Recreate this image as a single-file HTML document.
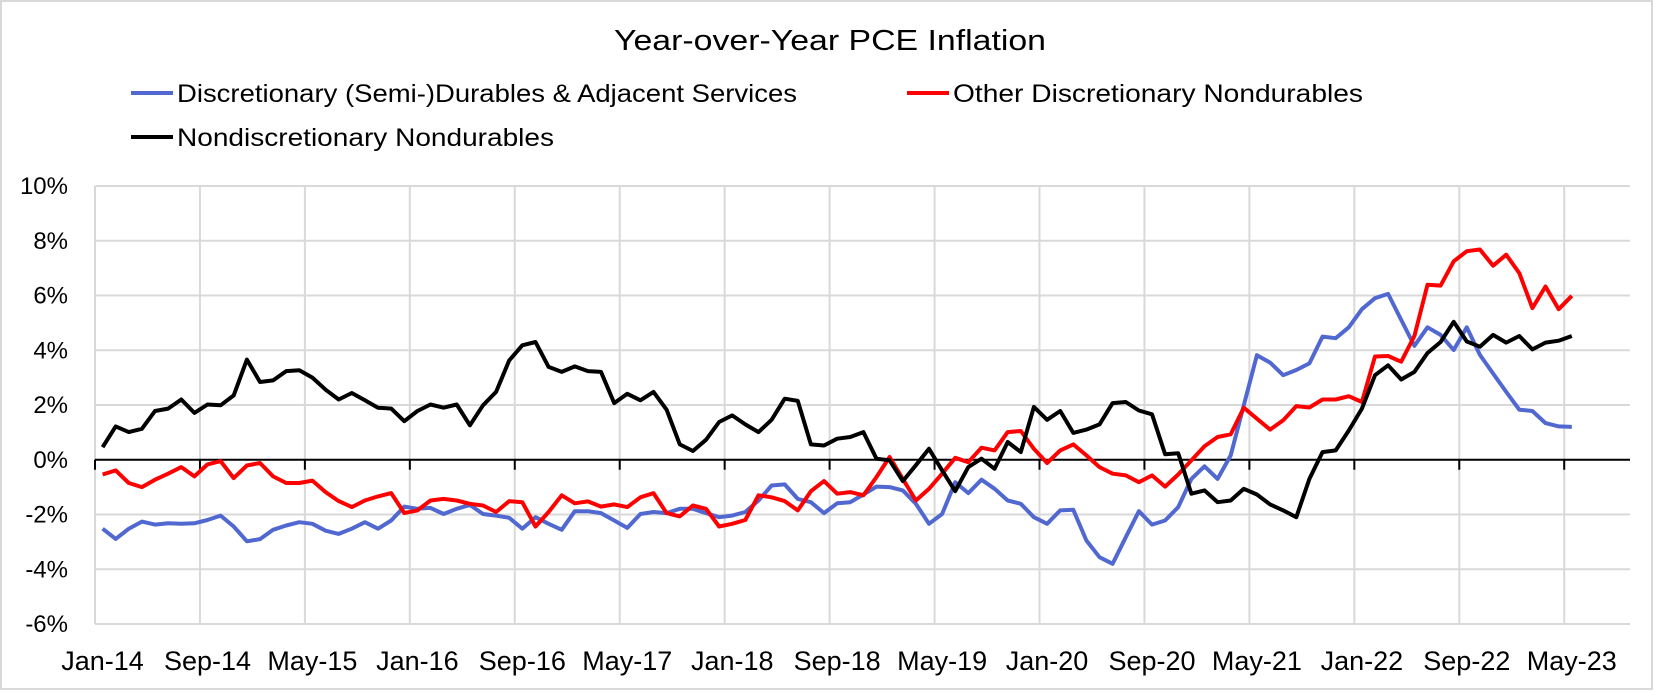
<!DOCTYPE html>
<html><head><meta charset="utf-8"><style>
html,body{margin:0;padding:0;background:#fff;}
svg{display:block;font-family:"Liberation Sans",Arial,sans-serif;}
</style></head><body>
<svg id="chart" width="1654" height="692" viewBox="0 0 1654 692" xmlns="http://www.w3.org/2000/svg">
<rect x="1" y="1" width="1651" height="688" fill="#fff" stroke="#d9d9d9" stroke-width="2"/>
<text x="830" y="50" font-size="29" text-anchor="middle" fill="#000" textLength="432" lengthAdjust="spacingAndGlyphs">Year-over-Year PCE Inflation</text>
<g>
 <g>
  <line x1="131" y1="93" x2="173" y2="93" stroke="#5068D0" stroke-width="4"/>
  <text x="177" y="102" font-size="25" textLength="620" lengthAdjust="spacingAndGlyphs">Discretionary (Semi-)Durables &amp; Adjacent Services</text>
 </g>
 <g>
  <line x1="907" y1="93" x2="949" y2="93" stroke="#FF0000" stroke-width="4"/>
  <text x="953" y="102" font-size="25" textLength="410" lengthAdjust="spacingAndGlyphs">Other Discretionary Nondurables</text>
 </g>
 <g>
  <line x1="131" y1="137" x2="173" y2="137" stroke="#000" stroke-width="4"/>
  <text x="177" y="146" font-size="25" textLength="377" lengthAdjust="spacingAndGlyphs">Nondiscretionary Nondurables</text>
 </g>
</g>
<g id="grid"></g>
<g id="yaxis"></g>
<g id="xaxis"></g>
<g id="series"></g>
</svg>
<script>
const xLabels = ["Jan-14","Sep-14","May-15","Jan-16","Sep-16","May-17","Jan-18","Sep-18","May-19","Jan-20","Sep-20","May-21","Jan-22","Sep-22","May-23"];
const yTicks = [-6,-4,-2,0,2,4,6,8,10];
const blueValues = [-2.52,-2.89,-2.52,-2.26,-2.37,-2.32,-2.34,-2.32,-2.2,-2.04,-2.44,-2.98,-2.9,-2.56,-2.4,-2.28,-2.34,-2.59,-2.71,-2.52,-2.28,-2.52,-2.22,-1.71,-1.79,-1.76,-1.98,-1.79,-1.65,-1.98,
-2.04,-2.12,-2.52,-2.1,-2.34,-2.56,-1.88,-1.88,-1.95,-2.22,-2.49,-1.98,-1.91,-1.95,-1.79,-1.79,-1.95,-2.1,-2.04,-1.91,-1.49,-0.94,-0.9,-1.43,-1.55,-1.95,-1.59,-1.55,-1.27,-0.98,
-1.0,-1.12,-1.61,-2.34,-1.98,-0.82,-1.22,-0.73,-1.06,-1.49,-1.61,-2.1,-2.34,-1.85,-1.83,-2.95,-3.56,-3.8,-2.83,-1.88,-2.37,-2.22,-1.73,-0.7,-0.24,-0.7,0.16,1.99,3.82,3.55,
3.09,3.28,3.52,4.5,4.44,4.84,5.5,5.9,6.06,5.11,4.16,4.84,4.56,4.01,4.84,3.83,3.15,2.48,1.83,1.78,1.34,1.22,1.2];
const redValues = [-0.54,-0.39,-0.85,-1.0,-0.73,-0.51,-0.27,-0.61,-0.17,-0.05,-0.67,-0.21,-0.12,-0.61,-0.85,-0.85,-0.76,-1.18,-1.51,-1.73,-1.49,-1.34,-1.22,-1.95,-1.85,-1.49,-1.43,-1.49,-1.61,-1.67,
-1.91,-1.51,-1.55,-2.44,-1.91,-1.3,-1.59,-1.52,-1.71,-1.63,-1.73,-1.37,-1.22,-1.95,-2.07,-1.67,-1.79,-2.44,-2.34,-2.2,-1.3,-1.37,-1.51,-1.85,-1.15,-0.78,-1.24,-1.18,-1.3,-0.63,
0.1,-0.7,-1.49,-1.06,-0.51,0.07,-0.09,0.44,0.34,1.01,1.05,0.4,-0.12,0.34,0.56,0.16,-0.27,-0.51,-0.57,-0.82,-0.57,-0.98,-0.54,-0.02,0.49,0.83,0.93,1.9,1.5,1.1,
1.44,1.96,1.91,2.2,2.2,2.32,2.11,3.77,3.79,3.58,4.52,6.39,6.36,7.25,7.62,7.68,7.09,7.49,6.82,5.54,6.33,5.5,5.99];
const blackValues = [0.46,1.22,1.01,1.13,1.78,1.87,2.2,1.71,2.02,1.99,2.35,3.66,2.84,2.9,3.24,3.27,3.0,2.56,2.2,2.44,2.17,1.9,1.87,1.41,1.78,2.02,1.9,2.02,1.26,1.99,
2.48,3.63,4.18,4.3,3.39,3.21,3.41,3.24,3.21,2.07,2.41,2.17,2.48,1.83,0.56,0.32,0.73,1.38,1.62,1.29,1.01,1.46,2.23,2.15,0.56,0.52,0.77,0.83,1.01,0.04,
-0.02,-0.78,-0.2,0.4,-0.39,-1.15,-0.27,0.04,-0.33,0.65,0.28,1.93,1.46,1.78,0.98,1.1,1.29,2.07,2.11,1.8,1.66,0.2,0.24,-1.24,-1.12,-1.55,-1.49,-1.06,-1.27,-1.63,
-1.85,-2.1,-0.7,0.28,0.34,1.07,1.87,3.09,3.45,2.93,3.21,3.9,4.3,5.04,4.32,4.13,4.56,4.28,4.52,4.03,4.28,4.35,4.52];

const NS = "http://www.w3.org/2000/svg";
const L = 95, R = 1630, yTop = 186, yBot = 624, vMin = -6, vMax = 10;
const cw = 13.118, labelEvery = 8;
function xPos(i){ return L + cw*(i+0.5) + 1; }
function yPos(v){ return yBot - (v - vMin)/(vMax - vMin)*(yBot - yTop); }
function mk(tag, attrs, parent){ const e=document.createElementNS(NS,tag); for(const k in attrs) e.setAttribute(k,attrs[k]); parent.appendChild(e); return e; }

const grid = document.getElementById('grid');
const yaxis = document.getElementById('yaxis');
const xaxis = document.getElementById('xaxis');
const series = document.getElementById('series');

yTicks.forEach(t => {
  const y = yPos(t);
  if (t !== 0) {
    const g = mk('line',{x1:L,x2:R,y1:y,y2:y,stroke:'#d9d9d9','stroke-width':2},grid);
    
    
  }
  const lb = mk('text',{x:68,y:y+8,'font-size':24,'text-anchor':'end',fill:'#000'},yaxis);
  lb.textContent = t + '%';
  
  
});

xLabels.forEach((s, k) => {
  const i = k*labelEvery;
  const bx = L + cw*i;
  const g = mk('line',{x1:bx,x2:bx,y1:yTop,y2:yBot,stroke:'#d9d9d9','stroke-width':2},grid);
  
  
  const tk = mk('line',{x1:bx,x2:bx,y1:yPos(0),y2:yPos(0)+10,stroke:'#000','stroke-width':2},xaxis);
  
  
  const lb = mk('text',{x:xPos(i),y:670,'font-size':27,'text-anchor':'middle',fill:'#000'},xaxis);
  lb.textContent = s;
  
  
});
const ax = mk('line',{x1:L,x2:R,y1:yPos(0),y2:yPos(0),stroke:'#000','stroke-width':2},xaxis);



function drawSeries(vals, color, name){
  const pts = vals.map((v,i)=> xPos(i).toFixed(1)+','+yPos(v).toFixed(1)).join(' ');
  const p = mk('polyline',{points:pts,fill:'none',stroke:color,'stroke-width':4,'stroke-linejoin':'round'},series);
  
  
}
drawSeries(blueValues,'#5068D0','line-discretionary-durables');
drawSeries(redValues,'#FF0000','line-other-discretionary-nondurables');
drawSeries(blackValues,'#000000','line-nondiscretionary-nondurables');
</script>
</body></html>
